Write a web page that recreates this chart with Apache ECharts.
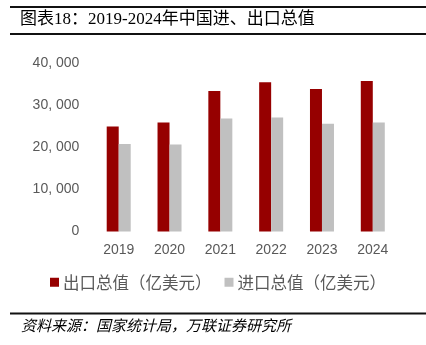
<!DOCTYPE html>
<html>
<head>
<meta charset="utf-8">
<script src="https://cdn.jsdelivr.net/npm/echarts@6/dist/echarts.min.js"></script>
<style>html,body{margin:0;padding:0;background:#fff;}#c{width:426px;height:345px;}</style>
</head>
<body>
<div id="c"></div>
<script>
const categories = ['2019', '2020', '2021', '2022', '2023', '2024'];
const exportValues = [25000, 25900, 33400, 35500, 33900, 35800];
const importValues = [20800, 20700, 26900, 27100, 25600, 25900];
const yTicks = [0, 10000, 20000, 30000, 40000];
const seriesNames = ['出口总值（亿美元）', '进口总值（亿美元）'];

const chart = echarts.init(document.getElementById('c'), null, {renderer: 'canvas'});
const cjk = "'Noto Sans CJK SC', sans-serif";
const fmt = v => {
  const s = String(v);
  return s.length > 3 ? s.slice(0, s.length - 3) + ', ' + s.slice(-3) : s;
};
chart.setOption({
  animation: false,
  backgroundColor: '#fff',
  title: [
    {
      text: '图表18：2019-2024年中国进、出口总值',
      left: 20, top: 11, padding: 0,
      textStyle: {fontSize: 17, fontWeight: 'normal', color: '#000', fontFamily: "'Liberation Serif', 'Noto Sans CJK SC', serif"}
    },
    {
      text: '资料来源：国家统计局，万联证券研究所',
      left: 21, top: 318, padding: 0,
      textStyle: {fontSize: 15, fontWeight: 'normal', fontStyle: 'italic', color: '#000', fontFamily: cjk}
    }
  ],
  graphic: [
    {type: 'line', shape: {x1: 10, y1: 7, x2: 426, y2: 7}, style: {stroke: '#111', lineWidth: 2}},
    {type: 'line', shape: {x1: 10, y1: 34, x2: 426, y2: 34}, style: {stroke: '#111', lineWidth: 2}},
    {type: 'line', shape: {x1: 10, y1: 313.5, x2: 426, y2: 313.5}, style: {stroke: '#111', lineWidth: 2}}
  ],
  legend: {
    left: 50, top: 274, padding: 0,
    itemWidth: 9, itemHeight: 9, itemGap: 13,
    icon: 'rect',
    textStyle: {fontSize: 16.5, color: '#595959', fontFamily: cjk, padding: [0, 0, 0, -1]},
    data: seriesNames
  },
  grid: {left: 93.3, right: 27.8, top: 63.3, bottom: 113.5, containLabel: false},
  xAxis: {
    type: 'category',
    data: categories,
    axisLine: {show: false},
    axisTick: {show: false},
    axisLabel: {fontSize: 14, color: '#595959', margin: 12, fontFamily: "'Liberation Sans', Arial, sans-serif"}
  },
  yAxis: {
    type: 'value',
    min: 0, max: 40000, interval: 10000,
    axisLine: {show: false},
    axisTick: {show: false},
    splitLine: {show: false},
    axisLabel: {
      fontSize: 14, color: '#595959', margin: 14,
      fontFamily: "'Liberation Sans', Arial, sans-serif",
      formatter: v => yTicks.includes(v) ? fmt(v) : ''
    }
  },
  series: [
    {name: seriesNames[0], type: 'bar', data: exportValues, barWidth: 12, barGap: '0%', itemStyle: {color: '#960000'}},
    {name: seriesNames[1], type: 'bar', data: importValues, barWidth: 12, barGap: '0%', itemStyle: {color: '#C0C0C0'}}
  ]
});
</script>
</body>
</html>
